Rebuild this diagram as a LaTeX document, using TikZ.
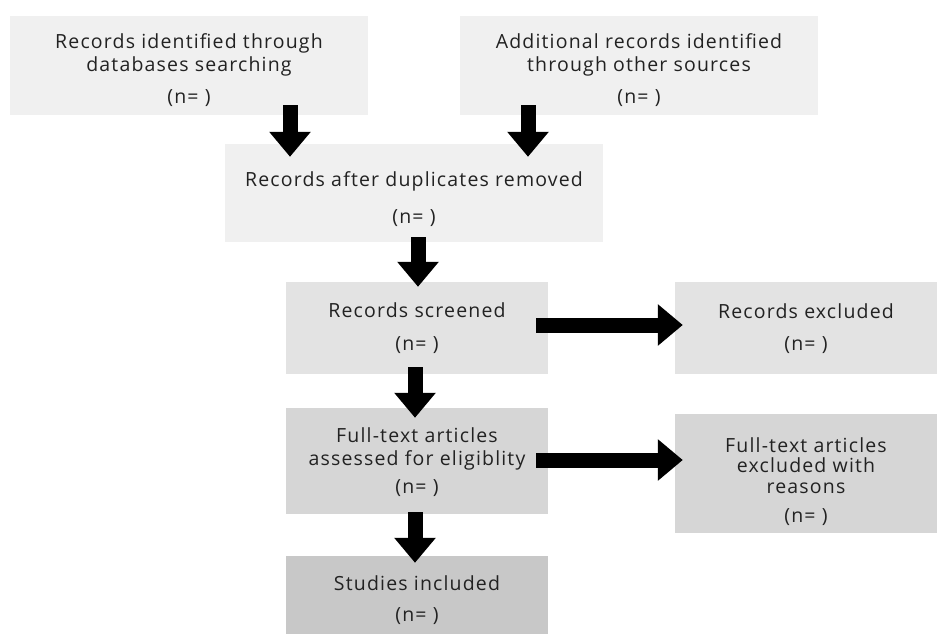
\documentclass[tikz,border=0pt]{standalone}
\usepackage{fontspec}
\setmainfont{Open Sans}[LetterSpace=6]
\usetikzlibrary{arrows.meta,calc}
\definecolor{shadeA}{HTML}{F0F0F0}
\definecolor{shadeB}{HTML}{E3E3E3}
\definecolor{shadeC}{HTML}{D6D6D6}
\definecolor{shadeD}{HTML}{C8C8C8}
\definecolor{ink}{HTML}{222222}
\tikzset{
  box/.style={rectangle, inner sep=0pt},
  txt/.style={inner sep=0pt, align=center, text=ink,
    font=\fontsize{19.5}{22.5}\selectfont},
  barrow/.style={draw=black, line width=15pt,
    -{Triangle[width=40pt,length=25pt]}},
}
\begin{document}
\begin{tikzpicture}[x=1pt,y=-1pt]
\useasboundingbox (0,0) rectangle (939,635);

% stage boxes
\node[box, fill=shadeA, minimum width=358pt, minimum height=99pt]  (b1) at (189,65.5) {};
\node[box, fill=shadeA, minimum width=358pt, minimum height=99pt]  (b2) at (639,65.5) {};
\node[box, fill=shadeA, minimum width=378pt, minimum height=98pt]  (b3) at (414,193) {};
\node[box, fill=shadeB, minimum width=262pt, minimum height=92pt]  (b4) at (417,328) {};
\node[box, fill=shadeC, minimum width=262pt, minimum height=106pt] (b5) at (417,461) {};
\node[box, fill=shadeD, minimum width=262pt, minimum height=78pt]  (b6) at (417,595) {};
\node[box, fill=shadeB, minimum width=262pt, minimum height=92pt]  (b7) at (806,328) {};
\node[box, fill=shadeC, minimum width=262pt, minimum height=119pt] (b8) at (806,473.5) {};

% box texts
\node[txt] (t1) at ($(b1.center)+(0,5)$)
  {Records identified through\\ databases searching\\[10pt] (n=\ )};
\node[txt] (t2) at ($(b2.center)+(0,5)$)
  {Additional records identified\\ through other sources\\[10pt] (n=\ )};
\node[txt] (t3) at ($(b3.center)+(0,6)$)
  {Records after duplicates removed\\[14pt] (n=\ )};
\node[txt] (t4) at (b4.center)
  {Records screened\\[11pt] (n=\ )};
\node[txt] (t5) at ($(b5.center)+(0,1.5)$)
  {Full-text articles\\ assessed for eligiblity\\[6pt] (n=\ )};
\node[txt] (t6) at ($(b6.center)+(0,5)$)
  {Studies included\\[8pt] (n=\ )};
\node[txt] (t7) at ($(b7.center)+(0,0.5)$)
  {Records excluded\\[10pt] (n=\ )};
\node[txt] (t8) at ($(b8.center)+(0,8)$)
  {Full-text articles\\[-2pt] excluded with\\[-2pt] reasons\\[7pt] (n=\ )};

% block arrows between the stages
\draw[barrow] ($(b1.south)+(101,-10)$) -- ($(b3.north)+(-124,13)$);
\draw[barrow] ($(b2.south)+(-111,-10)$) -- ($(b3.north)+(114,13)$);
\draw[barrow] ($(b3.south)+(4,-5)$) -- ($(b4.north)+(1,5)$);
\draw[barrow] ($(b4.south)+(-2,-7)$) -- ($(b5.north)+(-2,10)$);
\draw[barrow] ($(b5.south)+(-2,-2)$) -- ($(b6.north)+(-2,7)$);
\draw[barrow] ($(b4.east)+(-12,-3)$) -- ($(b7.west)+(8,-3)$);
\draw[barrow] ($(b5.east)+(-12,-1)$) -- ($(b8.west)+(8,-13.5)$);
\end{tikzpicture}
\end{document}
